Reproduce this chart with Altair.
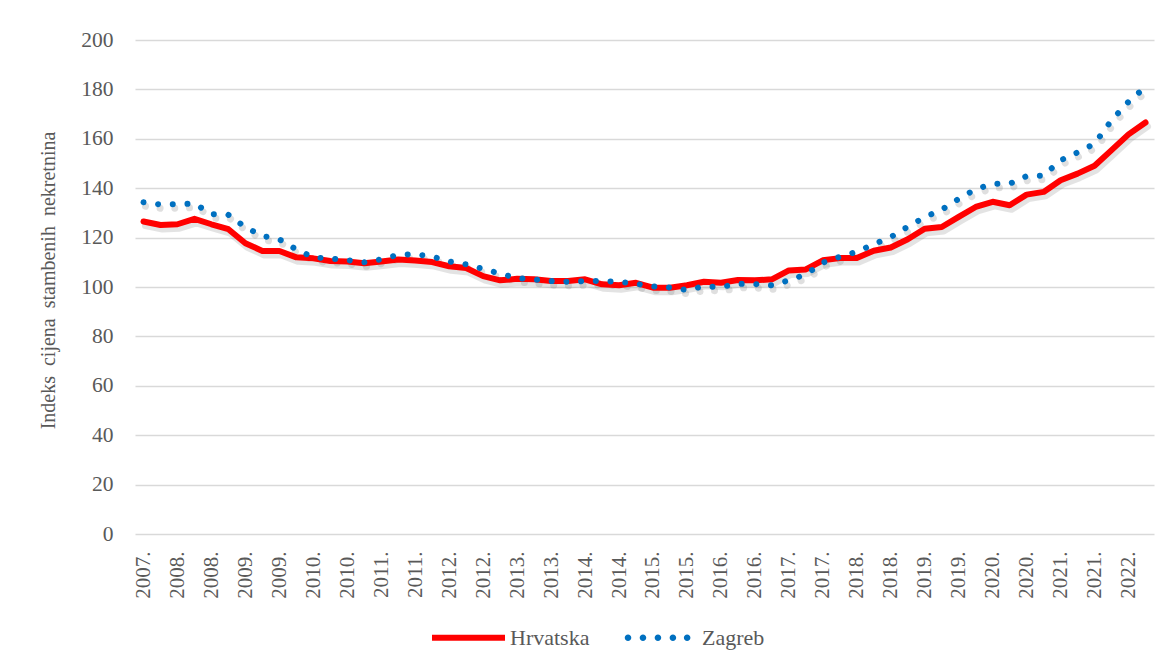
import altair as alt
import pandas as pd

# ---- data ----
periods = []
_y, _q = 2007, 3
for _ in range(60):
    periods.append(f"{_y}. Q{_q}")
    _q += 1
    if _q > 4:
        _q, _y = 1, _y + 1

hrvatska = [126.5, 125.1, 125.4, 127.6, 125.4, 123.4, 117.7, 114.6, 114.6, 112.0,
            111.6, 110.5, 110.3, 109.6, 110.3, 111.1, 110.7, 110.1, 108.4, 107.7,
            104.4, 102.7, 103.3, 103.1, 102.4, 102.4, 103.1, 101.1, 100.7, 101.7,
            99.7, 99.7, 100.7, 102.1, 101.7, 102.8, 102.7, 103.1, 106.7, 107.1,
            110.8, 111.7, 111.7, 114.7, 116.0, 119.3, 123.6, 124.3, 128.4, 132.4,
            134.5, 133.1, 137.4, 138.5, 143.2, 145.9, 149.1, 155.4, 161.8, 166.6]

zagreb = [134.3, 133.4, 133.5, 133.8, 129.5, 129.2, 124.2, 120.7, 119.3, 115.2,
          112.0, 111.5, 110.9, 110.0, 111.2, 113.0, 113.3, 112.3, 110.3, 109.2,
          107.3, 105.4, 103.6, 103.0, 102.4, 102.1, 102.4, 102.4, 102.1, 101.3,
          100.2, 99.8, 98.8, 100.3, 100.0, 101.3, 101.2, 100.7, 102.7, 105.1,
          109.9, 112.2, 114.3, 117.3, 120.2, 124.4, 128.3, 131.3, 135.7, 139.6,
          141.8, 141.8, 144.9, 145.1, 151.3, 154.5, 158.0, 167.5, 175.0, 181.0]

series_names = ["Hrvatska", "Zagreb"]
series_colors = ["#FF0000", "#0070C0"]
y_ticks = list(range(0, 201, 20))
y_title = "Indeks\u00a0 cijena\u00a0 stambenih\u00a0 nekretnina"

df = pd.DataFrame({
    "period": periods * 2,
    "series": [series_names[0]] * 60 + [series_names[1]] * 60,
    "value": hrvatska + zagreb,
})

FONT = "Liberation Serif"
TXT = "#595959"

# legend symbol paths (unit square -1..1)
def circ(cx, r=0.09):
    return f"M{cx - r},0a{r},{r} 0 1,0 {2 * r},0a{r},{r} 0 1,0 {-2 * r},0"

path_line = "M-1,-0.085L1,-0.085L1,0.085L-1,0.085Z"
path_dots = "".join(circ(c) for c in [-0.89, -0.48, -0.07, 0.34, 0.73])

x_enc = alt.X(
    "period:O",
    sort=periods,
    scale=alt.Scale(type="point", padding=0.5),
    axis=alt.Axis(
        values=periods[::2],
        labelExpr="substring(datum.label, 0, 5)",
        labelAngle=270,
        labelFont=FONT,
        labelFontSize=21,
        labelColor=TXT,
        labelPadding=17,
        ticks=False,
        domain=False,
        grid=False,
        title=None,
        labelOverlap=False,
    ),
)
y_enc = alt.Y(
    "value:Q",
    scale=alt.Scale(domain=[0, 200], nice=False),
    axis=alt.Axis(
        values=y_ticks,
        labelFont=FONT,
        labelFontSize=21.5,
        labelColor=TXT,
        labelPadding=22,
        ticks=False,
        domain=False,
        grid=True,
        gridColor="#D9D9D9",
        gridWidth=1.3,
        title=y_title,
        titleFont=FONT,
        titleFontSize=20,
        titleFontWeight="normal",
        titleColor=TXT,
        titleAngle=270,
        titleX=-87,
        titleY=240,
        titleAlign="center",
        titleBaseline="middle",
    ),
)

base = alt.Chart(df).encode(x=x_enc, y=y_enc)

dot_dash = [0.01, 14.7]

shadow_h = base.transform_filter(alt.datum.series == "Hrvatska").mark_line(
    color="#7f7f7f", opacity=0.22, strokeWidth=7, xOffset=2, yOffset=4,
    strokeJoin="round", strokeCap="round")
shadow_z = base.transform_filter(alt.datum.series == "Zagreb").mark_line(
    color="#7f7f7f", opacity=0.25, strokeWidth=7, xOffset=2, yOffset=4,
    strokeDash=dot_dash, strokeCap="round")
line_h = base.transform_filter(alt.datum.series == "Hrvatska").mark_line(
    color=series_colors[0], strokeWidth=6, strokeJoin="round", strokeCap="round")
line_z = base.transform_filter(alt.datum.series == "Zagreb").mark_line(
    color=series_colors[1], strokeWidth=6, strokeDash=dot_dash, strokeCap="round")

leg = dict(title=None, labelFont=FONT, labelFontSize=22, labelColor=TXT)

legend_layer = base.transform_filter("false").mark_point(filled=True).encode(
    color=alt.Color("series:N",
                    scale=alt.Scale(domain=series_names, range=series_colors),
                    legend=alt.Legend(**leg)),
    shape=alt.Shape("series:N",
                    scale=alt.Scale(domain=series_names, range=[path_line, path_dots]),
                    legend=alt.Legend(**leg)),
)

chart = alt.layer(shadow_h, shadow_z, line_h, line_z, legend_layer).properties(
    width=1019,
    height=494,
    autosize=alt.AutoSizeParams(type="none"),
    padding={"left": 127, "top": 32, "right": 11, "bottom": 128},
    background="white",
).configure_view(strokeWidth=0).configure_legend(
    orient="none",
    legendX=297,
    legendY=561,
    direction="horizontal",
    labelFont=FONT,
    labelFontSize=22,
    labelColor=TXT,
    symbolSize=5329,
    symbolStrokeWidth=0,
    symbolOpacity=1,
    labelOffset=5,
    columnPadding=34,
)

chart.save("out.html", embed_options={"renderer": "svg", "actions": False})
